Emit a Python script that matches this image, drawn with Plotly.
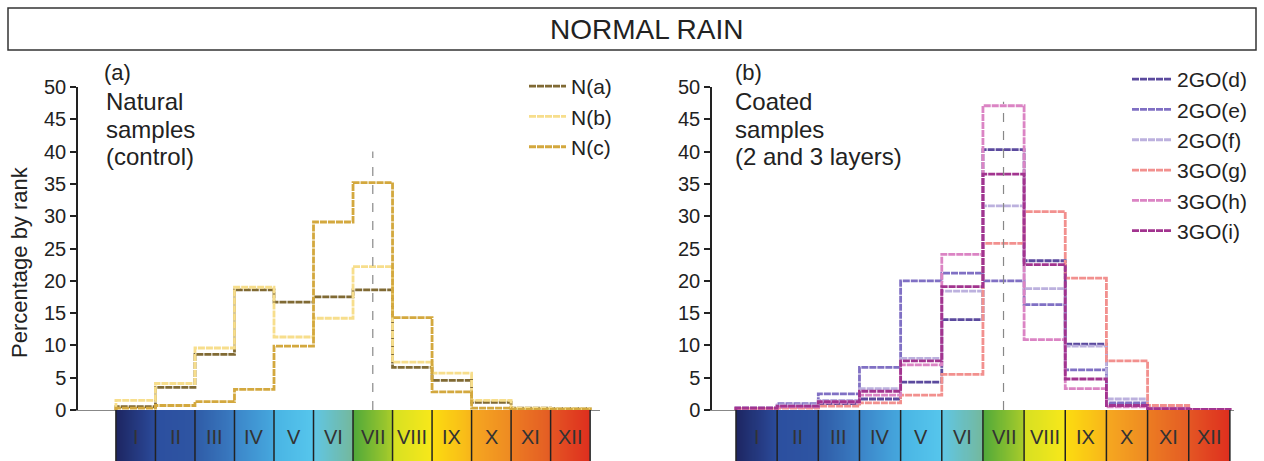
import numpy as np
import plotly.graph_objects as go

W, H = 1264, 461

# ---------------- data ----------------
ranks = ["I", "II", "III", "IV", "V", "VI", "VII", "VIII", "IX", "X", "XI", "XII"]

natural_names = ["N(a)", "N(b)", "N(c)"]
N_a = [0.5, 3.5, 8.6, 18.6, 16.7, 17.5, 18.6, 6.6, 4.6, 1.2, 0.3, 0.2]
N_b = [1.5, 4.1, 9.6, 19.0, 11.3, 14.2, 22.2, 7.4, 5.7, 1.5, 0.3, 0.2]
N_c = [0.3, 0.7, 1.3, 3.2, 9.9, 29.1, 35.2, 14.3, 2.8, 0.3, 0.1, 0.1]

coated_names = ["2GO(d)", "2GO(e)", "2GO(f)", "3GO(g)", "3GO(h)", "3GO(i)"]
GO2_d = [0.3, 0.4, 1.0, 1.7, 4.3, 14.0, 40.3, 23.1, 10.2, 0.9, 0.2, 0.1]
GO2_e = [0.3, 1.0, 2.5, 6.6, 20.0, 21.2, 20.0, 16.3, 6.2, 1.1, 0.2, 0.1]
GO2_f = [0.3, 0.8, 1.5, 3.3, 8.0, 18.4, 31.6, 18.8, 9.9, 1.7, 0.3, 0.1]
GO3_g = [0.2, 0.3, 0.6, 1.1, 2.3, 5.5, 25.8, 30.7, 20.4, 7.6, 0.7, 0.1]
GO3_h = [0.3, 0.5, 1.2, 2.3, 7.0, 24.1, 47.1, 10.9, 3.3, 0.5, 0.2, 0.1]
GO3_i = [0.3, 0.6, 1.3, 2.9, 7.6, 19.1, 36.5, 22.5, 4.8, 0.7, 0.2, 0.1]

y_ticks = [0, 5, 10, 15, 20, 25, 30, 35, 40, 45, 50]

left_note = ["Natural", "samples", "(control)"]
right_note = ["Coated", "samples", "(2 and 3 layers)"]

# ---------------- styles ----------------
nat_colors = ["#806a34", "#f7de8c", "#d3a83e"]
coat_colors = ["#5b4a9e", "#8070c4", "#bcb1de", "#f2908e", "#db84c4", "#a2348f"]

# gradient colours of each rank cell (left edge, right edge)
rank_grad = [
    ("#1d2561", "#2b4b9b"), ("#2c4f9f", "#2e55a3"), ("#2f5ba6", "#3a7cc2"),
    ("#3b84c8", "#46a8de"), ("#49b4e4", "#56c6ec"), ("#60c6e6", "#74b89c"),
    ("#4fa83a", "#a9cc2a"), ("#d6e022", "#f8e81a"), ("#fcdc10", "#f8b61a"),
    ("#f6a820", "#ee8a22"), ("#ec7c22", "#e45c24"), ("#e45624", "#de2e1e"),
]

FONT = "Arial, Liberation Sans, sans-serif"
px_x = lambda p: p / W
px_y = lambda p: (H - p) / H

y_dom = [px_y(410), px_y(87)]
xL_dom = [px_x(78), px_x(600)]
xR_dom = [px_x(712), px_x(1234)]
bar_dom = [0, px_y(410)]


def step_xy(vals):
    n = len(vals)
    xs = [0] + list(range(n)) + [n, n]
    ys = [0] + list(vals) + [vals[-1], 0]
    return xs, ys


fig = go.Figure()

LINE_DASH = "7px,1px"
for name, vals, col in zip(natural_names, [N_a, N_b, N_c], nat_colors):
    xs, ys = step_xy(vals)
    fig.add_trace(go.Scatter(x=xs, y=ys, mode="lines", name=name,
                             line=dict(color=col, width=2.8, shape="hv", dash=LINE_DASH),
                             xaxis="x", yaxis="y", legend="legend",
                             legendgroup=name))

for name, vals, col in zip(coated_names, [GO2_d, GO2_e, GO2_f, GO3_g, GO3_h, GO3_i], coat_colors):
    xs, ys = step_xy(vals)
    fig.add_trace(go.Scatter(x=xs, y=ys, mode="lines", name=name,
                             line=dict(color=col, width=2.8, shape="hv", dash=LINE_DASH),
                             xaxis="x2", yaxis="y2", legend="legend2",
                             legendgroup=name))

# gradient colour strips under each panel
n = len(ranks)
cs = []
for i, (c0, c1) in enumerate(rank_grad):
    cs.append([(i + 0.001) / n, c0])
    cs.append([(i + 0.999) / n, c1])
cs[0][0] = 0.0
cs[-1][0] = 1.0
edges = np.linspace(0, n, n * 40 + 1)
centers = (edges[:-1] + edges[1:]) / 2
for xa, ya in [("x3", "y3"), ("x4", "y4")]:
    fig.add_trace(go.Heatmap(x=edges, y=[0, 1], z=[centers.tolist()],
                             colorscale=cs, zmin=0, zmax=n, showscale=False,
                             hoverinfo="skip", xaxis=xa, yaxis=ya))

shapes = []
annotations = []
for xa, ya in [("x3", "y3"), ("x4", "y4")]:
    for i in range(n + 1):
        shapes.append(dict(type="line", xref=xa, yref=ya + " domain", x0=i, x1=i,
                           y0=0, y1=1, line=dict(color="#222", width=1.5)))
    for i, r in enumerate(ranks):
        annotations.append(dict(text=r, xref=xa, yref=ya + " domain", x=i + 0.5, y=0.47,
                                showarrow=False, font=dict(size=20, color="#333", family=FONT)))

# dashed reference lines at rank VII centre
shapes.append(dict(type="line", xref="x", yref="y", x0=6.5, x1=6.5, y0=0, y1=40,
                   line=dict(color="#888", width=1.2, dash="dash")))
shapes.append(dict(type="line", xref="x2", yref="y2", x0=6.5, x1=6.5, y0=0, y1=47.7,
                   line=dict(color="#888", width=1.2, dash="dash")))

# title box
shapes.append(dict(type="rect", xref="paper", yref="paper", x0=px_x(8), x1=px_x(1256),
                   y0=px_y(50), y1=px_y(8), line=dict(color="#333", width=1.5)))
annotations.append(dict(text="NORMAL RAIN", xref="paper", yref="paper", x=px_x(647), y=px_y(30),
                        xanchor="center", yanchor="middle", showarrow=False,
                        font=dict(size=28, color="#222", family=FONT)))

annotations += [
    dict(text="(a)", xref="paper", yref="paper", x=px_x(102), y=px_y(72), xanchor="left",
         yanchor="middle", showarrow=False, font=dict(size=22, color="#222", family=FONT)),
    dict(text="(b)", xref="paper", yref="paper", x=px_x(733), y=px_y(72), xanchor="left",
         yanchor="middle", showarrow=False, font=dict(size=22, color="#222", family=FONT)),
    dict(text="Percentage by rank", xref="paper", yref="paper", x=px_x(19), y=px_y(262),
         textangle=-90, xanchor="center", yanchor="middle", showarrow=False,
         font=dict(size=22, color="#222", family=FONT)),
]
for k, (lt, rt) in enumerate(zip(left_note, right_note)):
    yy = px_y(102 + 27.5 * k)
    annotations.append(dict(text=lt, xref="paper", yref="paper", x=px_x(104), y=yy,
                            xanchor="left", yanchor="middle", showarrow=False,
                            font=dict(size=24, color="#222", family=FONT)))
    annotations.append(dict(text=rt, xref="paper", yref="paper", x=px_x(733), y=yy,
                            xanchor="left", yanchor="middle", showarrow=False,
                            font=dict(size=24, color="#222", family=FONT)))

yax = dict(domain=y_dom, range=[0, 50], tickvals=y_ticks, showline=True, linecolor="#222",
           linewidth=1.5, ticks="outside", ticklen=6, tickwidth=1.5, tickcolor="#222",
           showgrid=False, zeroline=False, automargin=False,
           tickfont=dict(size=20, color="#222", family=FONT))
xax_common = dict(showline=True, linecolor="#888", linewidth=1.2, showticklabels=False,
                  ticks="", showgrid=False, zeroline=False, automargin=False)

fig.update_layout(
    width=W, height=H, margin=dict(l=0, r=0, t=0, b=0, pad=0, autoexpand=False),
    paper_bgcolor="white", plot_bgcolor="rgba(0,0,0,0)",
    font=dict(family=FONT, color="#222"),
    xaxis=dict(domain=xL_dom, range=[-0.96, 12.25], anchor="y", **xax_common),
    yaxis=dict(anchor="x", **yax),
    xaxis2=dict(domain=xR_dom, range=[-0.583, 12.1], anchor="y2", **xax_common),
    yaxis2=dict(anchor="x2", **yax),
    xaxis3=dict(domain=xL_dom, range=[-0.96, 12.25], anchor="y3", visible=False),
    yaxis3=dict(domain=bar_dom, range=[0, 1], anchor="x3", visible=False),
    xaxis4=dict(domain=xR_dom, range=[-0.583, 12.1], anchor="y4", visible=False),
    yaxis4=dict(domain=bar_dom, range=[0, 1], anchor="x4", visible=False),
    legend=dict(x=px_x(524), y=px_y(66), xanchor="left", yanchor="top",
                bgcolor="rgba(0,0,0,0)", font=dict(size=21, family=FONT, color="#222"),
                tracegroupgap=0, itemwidth=37),
    legend2=dict(x=px_x(1127), y=px_y(59), xanchor="left", yanchor="top",
                 bgcolor="rgba(0,0,0,0)", font=dict(size=21, family=FONT, color="#222"),
                 tracegroupgap=0, itemwidth=40),
    shapes=shapes, annotations=annotations, showlegend=True,
)

fig.write_html("out.html")
